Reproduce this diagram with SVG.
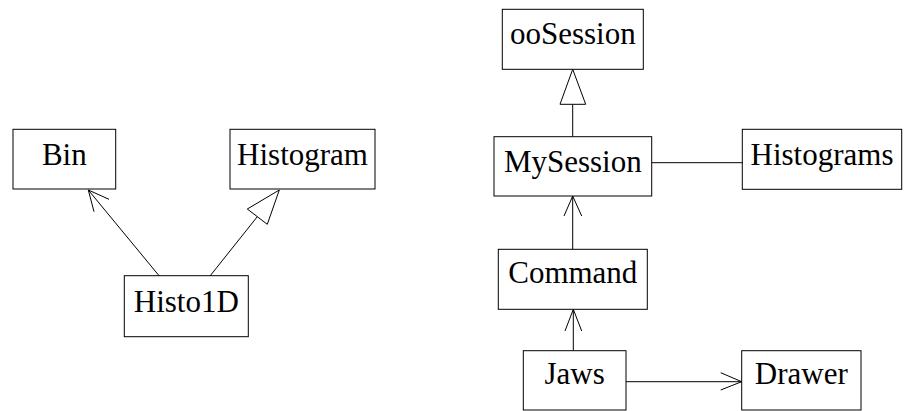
<svg xmlns="http://www.w3.org/2000/svg" width="906" height="411" viewBox="0 0 906 411">
<style>
.box{fill:#fff;stroke:#000;stroke-width:1}
.lbl{font-family:"Liberation Serif","Times New Roman",serif;font-size:31px;fill:#000;text-anchor:middle}
.ln{fill:none;stroke:#000;stroke-width:1}
.tri{fill:#fff;stroke:#000;stroke-width:1}
</style>
<rect width="906" height="411" fill="#fff"/>
<g id="connectors">
  <path class="ln" d="M159.3,276 L88.3,190"/>
  <path class="ln" d="M94,211.7 L88.3,190 L109,199.3"/>
  <path class="ln" d="M210,276 L257.3,216.7"/>
  <polygon class="tri" points="279.3,190 247.3,209 267.3,224.3"/>
  <path class="ln" d="M572.7,136.7 L572.7,104.3"/>
  <polygon class="tri" points="572.7,69.3 560,104.3 585.7,104.3"/>
  <path class="ln" d="M651.7,162.7 L742.3,162.7"/>
  <path class="ln" d="M572.7,249.3 L572.7,196"/>
  <path class="ln" d="M564,216 L572.7,196 L581.7,216"/>
  <path class="ln" d="M573.3,350.7 L573.3,309.3"/>
  <path class="ln" d="M565,331 L573.3,309.3 L581.7,331"/>
  <path class="ln" d="M626,381.7 L741.7,381.7"/>
  <path class="ln" d="M720.7,372.7 L741.7,381.7 L720.7,390"/>
</g>
<g id="Bin"><rect class="box" x="13" y="129.3" width="102.7" height="59.7"/><text class="lbl" x="64.3" y="165">Bin</text></g>
<g id="Histogram"><rect class="box" x="230" y="129.3" width="145" height="59.7"/><text class="lbl" x="302.5" y="165">Histogram</text></g>
<g id="Histo1D"><rect class="box" x="124.3" y="275.7" width="124" height="61"/><text class="lbl" x="186.3" y="311.7">Histo1D</text></g>
<g id="ooSession"><rect class="box" x="502.3" y="9.3" width="141" height="60"/><text class="lbl" x="572.8" y="44.3">ooSession</text></g>
<g id="MySession"><rect class="box" x="494" y="136.7" width="157.7" height="59.3"/><text class="lbl" x="572.8" y="171.7">MySession</text></g>
<g id="Histograms"><rect class="box" x="742.3" y="129.3" width="159.4" height="60"/><text class="lbl" x="822" y="165">Histograms</text></g>
<g id="Command"><rect class="box" x="498.3" y="249.3" width="149" height="60"/><text class="lbl" x="572.8" y="283.3">Command</text></g>
<g id="Jaws"><rect class="box" x="523.3" y="350.7" width="102.7" height="59.3"/><text class="lbl" x="574.6" y="384">Jaws</text></g>
<g id="Drawer"><rect class="box" x="741.7" y="350.7" width="119.3" height="59.3"/><text class="lbl" x="801.3" y="384">Drawer</text></g>
</svg>
